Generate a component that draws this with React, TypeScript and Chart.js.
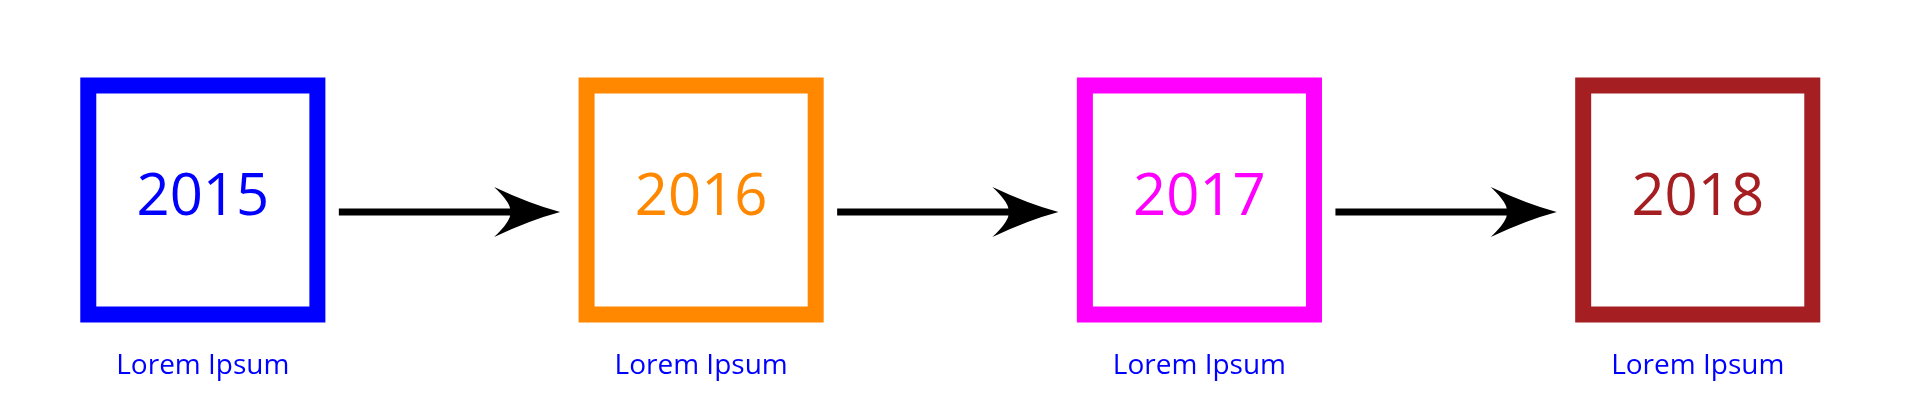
import React, { useEffect, useRef } from "react";
import Chart from "chart.js/auto";

const years = ["2015", "2016", "2017", "2018"];
const positions = [0, 1, 2, 3];
const colors = ["#0000ff", "#ff8800", "#ff00ff", "#a41e22"];
const captions = ["Lorem Ipsum", "Lorem Ipsum", "Lorem Ipsum", "Lorem Ipsum"];

const overlay = {
  id: "overlay",
  afterDatasetsDraw(chart: any) {
    const ctx = chart.ctx;
    const xs = chart.scales.x;
    const ys = chart.scales.y;
    const cy = ys.getPixelForValue(0.5);
    ctx.save();
    for (let i = 0; i < positions.length - 1; i++) {
      const a = xs.getPixelForValue(positions[i]);
      const b = xs.getPixelForValue(positions[i + 1]);
      const y = cy + 12;
      const x0 = a + 136;
      const tip = b - 141;
      ctx.strokeStyle = "#000";
      ctx.lineWidth = 7;
      ctx.beginPath();
      ctx.moveTo(x0, y);
      ctx.lineTo(tip - 30, y);
      ctx.stroke();
      ctx.fillStyle = "#000";
      ctx.beginPath();
      ctx.moveTo(tip, y);
      ctx.quadraticCurveTo(tip - 30, y - 8, tip - 66, y - 25);
      ctx.quadraticCurveTo(tip - 48, y - 8, tip - 50, y);
      ctx.quadraticCurveTo(tip - 48, y + 8, tip - 66, y + 25);
      ctx.quadraticCurveTo(tip - 30, y + 8, tip, y);
      ctx.fill();
    }
    ctx.textAlign = "center";
    ctx.textBaseline = "middle";
    positions.forEach((p, i) => {
      const x = xs.getPixelForValue(p);
      ctx.fillStyle = colors[i];
      ctx.font = "58px 'Open Sans'";
      ctx.fillText(years[i], x, cy - 2);
      ctx.fillStyle = "#0000ff";
      ctx.font = "28px 'Open Sans'";
      ctx.fillText(captions[i], x, cy + 166);
    });
    ctx.restore();
  },
};

export default function App() {
  const ref = useRef<HTMLCanvasElement>(null);
  useEffect(() => {
    const chart = new Chart(ref.current!, {
      type: "scatter",
      data: {
        datasets: [
          {
            data: positions.map((p) => ({ x: p, y: 0.5 })),
            clip: false,
            pointStyle: "rect",
            pointRadius: 162,
            pointHoverRadius: 162,
            pointBorderWidth: 16,
            pointHoverBorderWidth: 16,
            pointBorderColor: colors,
            pointBackgroundColor: "#ffffff",
          },
        ],
      },
      options: {
        animation: false,
        responsive: true,
        maintainAspectRatio: false,
        layout: { padding: 0, autoPadding: false },
        plugins: { legend: { display: false }, tooltip: { enabled: false } },
        events: [],
        scales: {
          x: { type: "linear", min: -0.391, max: 3.43, display: false },
          y: { min: 0, max: 1, display: false },
        },
      },
      plugins: [overlay],
    });
    return () => chart.destroy();
  }, []);
  return (
    <div style={{ width: "100%", height: 384, position: "relative" }}>
      <canvas ref={ref} />
    </div>
  );
}
